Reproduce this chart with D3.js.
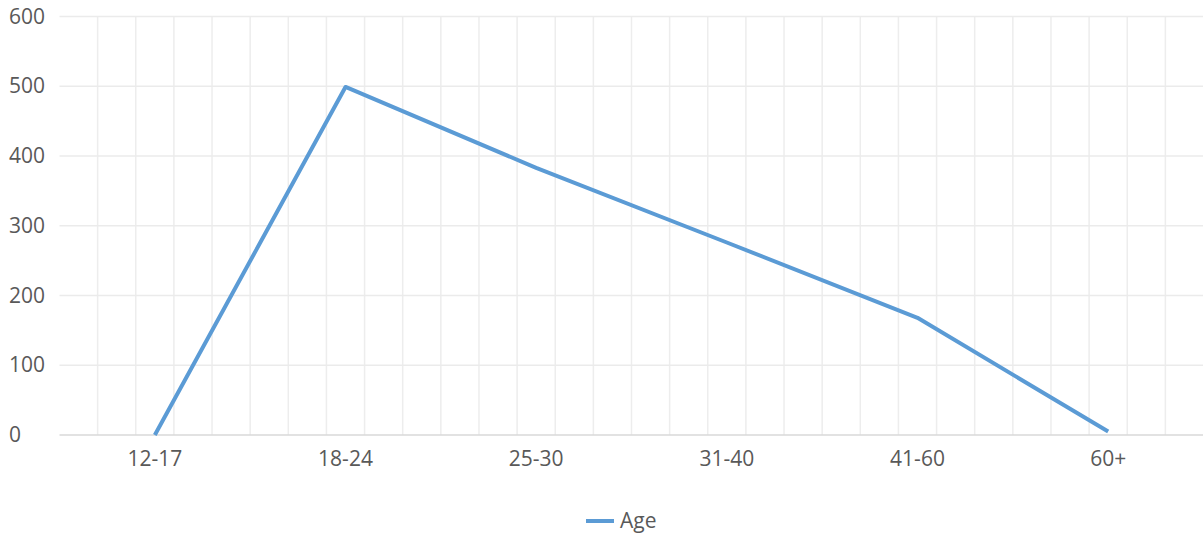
<!DOCTYPE html>
<html>
<head>
<meta charset="utf-8">
<script src="https://cdn.jsdelivr.net/npm/d3@7"></script>
<style>
  html, body { margin: 0; padding: 0; background: #ffffff; }
  svg { display: block; }
  text { font-family: "Open Sans", "Noto Sans", sans-serif; fill: #595959; }
</style>
</head>
<body>
<svg id="chart" width="1203" height="540"></svg>
<script>
// Age groups and respondent counts
const categories = ["12-17", "18-24", "25-30", "31-40", "41-60", "60+"];
const ageValues = [0, 499, 383, 276, 168, 5];
const yTicks = [0, 100, 200, 300, 400, 500, 600];
const seriesName = "Age";

const W = 1203, H = 540;
const margin = { left: 59.5, right: -0.5, top: 16.5, bottom: 105 };
const svg = d3.select("#chart");

const x = d3.scaleBand()
  .domain(categories)
  .range([margin.left, W - margin.right])
  .padding(0);

const y = d3.scaleLinear()
  .domain([0, 600])
  .range([H - margin.bottom, margin.top]);

const bw = x.bandwidth();
const lineColor = "#5b9bd5";

// vertical minor gridlines: five per category band
const minor = d3.range(1, categories.length * 5).map(i => margin.left + i * bw / 5);
svg.append("g")
  .selectAll("line")
  .data(minor)
  .join("line")
  .attr("x1", d => d).attr("x2", d => d)
  .attr("y1", y(600)).attr("y2", y(0))
  .attr("stroke", "#ededed")
  .attr("stroke-width", 1.5);

// horizontal gridlines
svg.append("g")
  .selectAll("line")
  .data(yTicks)
  .join("line")
  .attr("x1", margin.left).attr("x2", W)
  .attr("y1", d => y(d)).attr("y2", d => y(d))
  .attr("stroke", d => d === 0 ? "#d9d9d9" : "#ebebeb")
  .attr("stroke-width", 1.5);

// y axis labels, left-aligned
const yAxis = d3.axisLeft(y).tickValues(yTicks).tickSize(0).tickPadding(0);
const gy = svg.append("g")
  .attr("transform", "translate(9,0)")
  .call(yAxis);
gy.select(".domain").remove();
gy.selectAll("text")
  .attr("text-anchor", "start")
  .attr("x", 0)
  .attr("font-size", 21)
  .style("font-family", "'Open Sans', sans-serif")
  .attr("fill", "#595959");

// x axis labels
const xAxis = d3.axisBottom(x).tickSize(0).tickPadding(16);
const gx = svg.append("g")
  .attr("transform", `translate(0,${y(0)})`)
  .call(xAxis);
gx.select(".domain").remove();
gx.selectAll("text")
  .attr("font-size", 21)
  .style("font-family", "'Open Sans', sans-serif")
  .attr("fill", "#595959");

// series line
const line = d3.line()
  .x((d, i) => x(categories[i]) + bw / 2)
  .y(d => y(d));

svg.append("path")
  .datum(ageValues)
  .attr("d", line)
  .attr("fill", "none")
  .attr("stroke", lineColor)
  .attr("stroke-width", 4)
  .attr("stroke-linejoin", "round");

// legend
const lg = svg.append("g").attr("transform", "translate(586,521)");
lg.append("line")
  .attr("x1", 0).attr("x2", 28)
  .attr("y1", 0).attr("y2", 0)
  .attr("stroke", lineColor)
  .attr("stroke-width", 4);
lg.append("text")
  .attr("x", 34).attr("y", 0)
  .attr("dy", "0.35em")
  .attr("font-size", 21)
  .text(seriesName);
</script>
</body>
</html>
